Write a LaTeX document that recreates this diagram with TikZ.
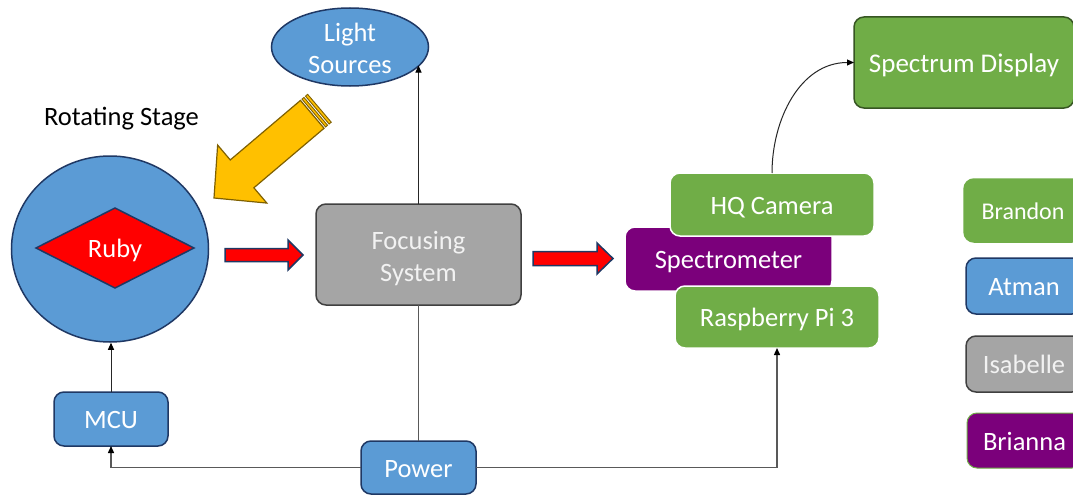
\documentclass[tikz,border=0pt]{standalone}
\usepackage{fontspec}
\setmainfont{Carlito}
\usetikzlibrary{shapes.geometric,arrows.meta}
\definecolor{pblue}{HTML}{5B9BD5}
\definecolor{pnavy}{HTML}{1F3864}
\definecolor{pgreen}{HTML}{70AD47}
\definecolor{pdkgreen}{HTML}{375623}
\definecolor{pgray}{HTML}{A5A5A5}
\definecolor{pdkgray}{HTML}{404040}
\definecolor{ppurple}{HTML}{7B007B}
\definecolor{pyellow}{HTML}{FFC000}
\definecolor{pgold}{HTML}{7F6000}
\definecolor{pline}{HTML}{595959}
\definecolor{ptext}{HTML}{F2F2F2}
\tikzset{
  txt/.style={font=\fontsize{26.5}{32}\selectfont, text=white, align=center, inner sep=0pt, outer sep=0pt, text height=19pt, text depth=0pt},
  twoline/.style={text height=53pt, text depth=0pt},
  box/.style={txt, rectangle, rounded corners=10pt, line width=1.5pt},
  bluebox/.style={box, fill=pblue, draw=pnavy},
  graybox/.style={box, fill=pgray, draw=pdkgray, text=ptext},
  greenbox/.style={box, fill=pgreen, draw=white},
  purplebox/.style={box, fill=ppurple, draw=white},
  tip/.style={-{Triangle[length=7pt,width=6pt,color=black]}},
  conn/.style={line width=1pt, draw=black!85, tip},
  pwr/.style={line width=1.4pt, draw=pline},
  redarrow/.style={fill=red, draw=pnavy, line width=1.5pt, line join=miter},
  yelarrow/.style={fill=pyellow, draw=pgold, line width=1.2pt, line join=miter},
}
\begin{document}
\begin{tikzpicture}[x=1pt,y=-1pt]
\useasboundingbox (0,0) rectangle (1073,495);
\fill[white] (0,0) rectangle (1073,495);

% Light sources
\node[txt, twoline, ellipse, fill=pblue, draw=pnavy, line width=1.5pt, minimum width=157pt, minimum height=78pt] (light) at (350,47) {Light\\Sources};

% Rotating stage
\node[txt, text=black] (rslabel) at (121.5,116) {Rotating Stage};
\node[ellipse, fill=pblue, draw=pnavy, line width=1.5pt, minimum width=197pt, minimum height=186pt, inner sep=0pt] (stage) at (110,249) {};
\node[txt, diamond, fill=red, draw=pnavy, line width=1.5pt, minimum width=158pt, minimum height=80pt] (ruby) at (115,248) {Ruby};

% Yellow striped arrow (local frame: a back from tip, b across)
\begin{scope}[shift={(214,198)}, x={(0.763pt,0.647pt)}, y={(0.647pt,-0.763pt)}]
  \filldraw[yelarrow] (0,0) -- (37,-38) -- (37,-18.5) -- (129,-18.5) -- (129,18) -- (37,18) -- (37,38) -- cycle;
  \filldraw[yelarrow, line width=0.9pt] (131,-18.5) -- (133.6,-18.5) -- (133.6,18) -- (131,18) -- cycle;
  \filldraw[yelarrow, line width=0.9pt] (135.6,-18.5) -- (138.4,-18.5) -- (138.4,18) -- (135.6,18) -- cycle;
\end{scope}

% Red arrows
\filldraw[redarrow] (225,248.5) -- (288,248.5) -- (288,240) -- (303,255) -- (288,270) -- (288,261.5) -- (225,261.5) -- cycle;
\filldraw[redarrow] (533,251.5) -- (597,251.5) -- (597,243) -- (613,258.5) -- (597,274) -- (597,265.5) -- (533,265.5) -- cycle;

% Focusing system
\node[graybox, twoline, minimum width=205pt, minimum height=101pt] (focus) at (418.5,254.5) {Focusing\\System};

% MCU and Power
\node[bluebox, minimum width=114pt, minimum height=54pt] (mcu) at (111,419) {MCU};
\node[bluebox, minimum width=115pt, minimum height=53pt] (power) at (418.5,467.5) {Power};

% Spectrometer stack
\node[purplebox, minimum width=207pt, minimum height=64pt] (spec) at (728.5,259) {Spectrometer};
\node[greenbox, minimum width=204pt, minimum height=63pt] (hq) at (772,204.5) {HQ Camera};
\node[greenbox, minimum width=204pt, minimum height=62pt] (rpi) at (777,317) {Raspberry Pi 3};

% Spectrum display
\node[box, fill=pgreen, draw=pdkgreen, minimum width=220pt, minimum height=91pt, font=\fontsize{27}{32}\selectfont] (disp) at (964,62.5) {Spectrum Display};

% Legend
\node[box, fill=pgreen, draw=pgreen, minimum width=118pt, minimum height=63pt, font=\fontsize{24}{28}\selectfont, text height=17pt] (brandon) at (1023,210.5) {Brandon};
\node[bluebox, minimum width=116pt, minimum height=56pt] (atman) at (1024,286) {Atman};
\node[graybox, minimum width=116pt, minimum height=56pt] (isabelle) at (1024,364) {Isabelle};
\node[box, fill=ppurple, draw=pgreen, line width=1pt, minimum width=115pt, minimum height=55pt] (brianna) at (1024.5,440.5) {Brianna};

% Connectors
\draw[conn] (focus.north) -- (focus.north |- light.-15);
\draw[pwr] (focus.south) -- (power.north);
\draw[conn] (mcu.north) -- (mcu.north |- stage.south);
\draw[pwr, tip] (power.west) -| (mcu.south);
\draw[pwr, tip] (power.east) -| (rpi.south);
\draw[conn] (hq.north) to[out=90, in=180] (disp.west);
\end{tikzpicture}
\end{document}
